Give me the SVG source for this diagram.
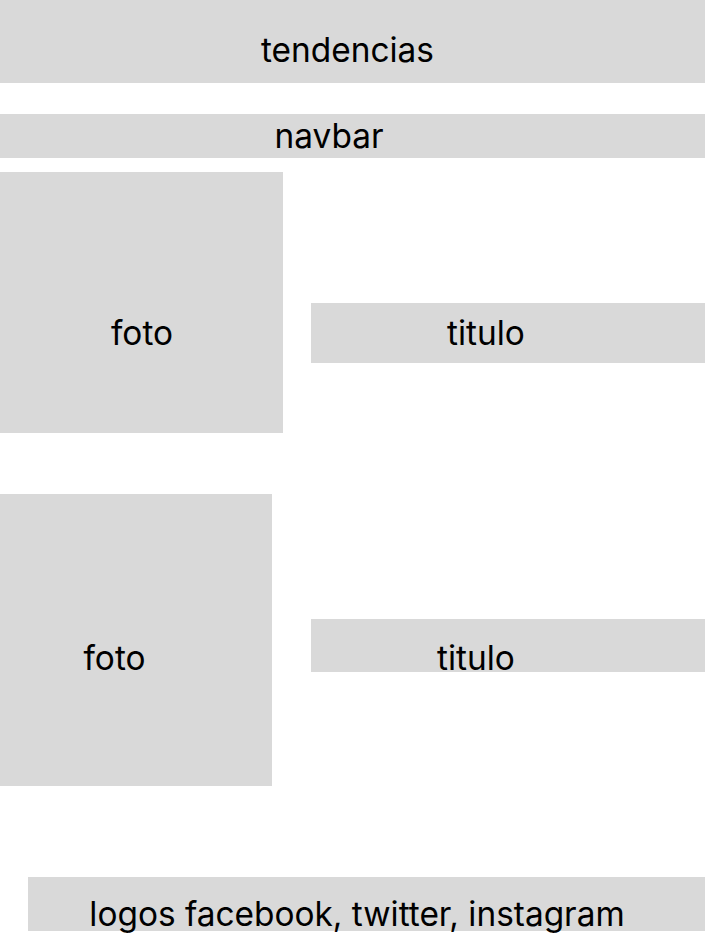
<svg xmlns="http://www.w3.org/2000/svg" width="706" height="933" viewBox="0 0 706 933">
<style>
.box{fill:#d9d9d9}
.lbl{font-family:Inter,"Noto Sans","Liberation Sans",sans-serif;font-size:33.4px;fill:#000;text-anchor:middle}
</style>
<rect width="706" height="933" fill="#fff"/>
<g id="tendencias"><rect class="box" x="0" y="0" width="705" height="83"/><text class="lbl" x="347.5" y="62">tendencias</text></g>
<g id="navbar"><rect class="box" x="0" y="114" width="705" height="44"/><text class="lbl" x="329" y="148">navbar</text></g>
<g id="foto1"><rect class="box" x="0" y="172" width="283" height="261"/><text class="lbl" x="142" y="345">foto</text></g>
<g id="titulo1"><rect class="box" x="311" y="303" width="394" height="60"/><text class="lbl" x="486" y="345">titulo</text></g>
<g id="foto2"><rect class="box" x="0" y="494" width="272" height="292"/><text class="lbl" x="114.5" y="670">foto</text></g>
<g id="titulo2"><rect class="box" x="311" y="619" width="394" height="53"/><text class="lbl" x="476" y="670">titulo</text></g>
<g id="footer"><rect class="box" x="28" y="877" width="677" height="54"/><text class="lbl" x="357" y="926">logos facebook, twitter, instagram</text></g>
<g id="connectors"/>
</svg>
